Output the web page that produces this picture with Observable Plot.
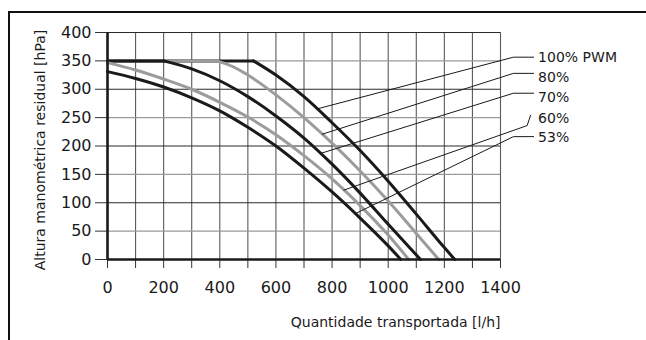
<!DOCTYPE html>
<html>
<head>
<meta charset="utf-8">
<script src="https://cdn.jsdelivr.net/npm/d3@7"></script>
<script src="https://cdn.jsdelivr.net/npm/@observablehq/plot@0.6"></script>
<style>
  html, body { margin: 0; padding: 0; background: #fff; }
  #wrap { position: relative; width: 646px; height: 340px; overflow: hidden; }
  #border { position: absolute; left: 8px; top: 11px; width: 700px; height: 400px;
            border-top: 2px solid #111; border-left: 2px solid #111; box-sizing: border-box; }
  #chart { position: absolute; left: 0; top: 0; }
</style>
</head>
<body>
<div id="wrap"><div id="border"></div><div id="chart"></div></div>
<script>
// ---- data ----
const seriesNames = ["100% PWM", "80%", "70%", "60%", "53%"];
const seriesColors = ["#1a1a1a", "#9c9c9c", "#1a1a1a", "#9c9c9c", "#1a1a1a"];

const flow100 = [0, 520, 600, 700, 800, 900, 1000, 1100, 1200, 1237];
const head100 = [350, 350, 325, 287, 241, 192, 138, 80, 21, 0];

const flow80 = [0, 390, 450, 500, 600, 700, 800, 900, 1000, 1100, 1180];
const head80 = [350, 350, 339, 325, 290, 250, 205, 156, 103, 46, 0];

const flow70 = [0, 200, 300, 400, 500, 600, 700, 800, 900, 1000, 1115];
const head70 = [350, 350, 336, 315, 287, 253, 214, 168, 117, 62, 0];

const flow60 = [0, 100, 200, 300, 400, 500, 600, 700, 800, 900, 1000, 1073];
const head60 = [347, 334, 318, 300, 277, 251, 220, 183, 142, 95, 43, 0];

const flow53 = [0, 100, 200, 300, 400, 500, 600, 700, 800, 900, 1000, 1045];
const head53 = [331, 319, 304, 285, 262, 233, 200, 161, 119, 73, 24, 0];

const xTicks = [0, 100, 200, 300, 400, 500, 600, 700, 800, 900, 1000, 1100, 1200, 1300, 1400];
const xTickLabels = ["0", "", "200", "", "400", "", "600", "", "800", "", "1000", "", "1200", "", "1400"];
const yTicks = [0, 50, 100, 150, 200, 250, 300, 350, 400];

// label annotations (data units)
const labelTextY = [356, 320, 285, 249, 215];
const leaderCurveX = [747, 765, 759, 842, 883];
const leaderKneeX = [1446, 1446, 1446, 1495, 1446];
const leaderKneeY = [356.5, 328, 293, 236, 216.5];
const leaderEndX = [1518, 1518, 1518, 1507, 1518];
const leaderEndY = [356.5, 328, 293, 254, 216.5];
const labelX = 1534;

const xTitle = "Quantidade transportada [l/h]";
const yTitle = "Altura manométrica residual [hPa]";

// ---- build tables ----
const flows = [flow100, flow80, flow70, flow60, flow53];
const heads = [head100, head80, head70, head60, head53];
const rows = (i) => flows[i].map((f, j) => ({flow: f, head: heads[i][j]}));
// split each series into its flat (capped) start and its falling part
const flatParts = [], fallParts = [];
seriesNames.forEach((name, i) => {
  const r = rows(i);
  let k = 0;
  while (k + 1 < r.length && r[k + 1].head === r[0].head) k++;
  flatParts.push(r.slice(0, k + 1));
  fallParts.push(r.slice(k));
});

function headAt(i, x) {
  const fx = flows[i], hy = heads[i];
  for (let j = 1; j < fx.length; j++) {
    if (x <= fx[j]) {
      const t = (x - fx[j - 1]) / (fx[j] - fx[j - 1]);
      return hy[j - 1] + t * (hy[j] - hy[j - 1]);
    }
  }
  return hy[hy.length - 1];
}
const leaders = seriesNames.map((name, i) => [
  {x: leaderCurveX[i], y: headAt(i, leaderCurveX[i])},
  {x: leaderKneeX[i], y: leaderKneeY[i]},
  {x: leaderEndX[i], y: leaderEndY[i]}
]);
const labels = seriesNames.map((name, i) => ({name, x: labelX, y: labelTextY[i]}));

const gridDark = yTicks.filter(d => d % 100 === 0);
const gridLight = yTicks.filter(d => d % 100 !== 0);

const font = "DejaVu Sans, sans-serif";

const curveMarks = [];
seriesNames.forEach((name, i) => {
  if (flatParts[i].length > 1)
    curveMarks.push(Plot.line(flatParts[i], {x: "flow", y: "head", stroke: seriesColors[i], strokeWidth: 3}));
  curveMarks.push(Plot.line(fallParts[i], {x: "flow", y: "head", stroke: seriesColors[i], strokeWidth: 3,
                                            curve: "monotone-x", strokeLinejoin: "round"}));
});

const chart = Plot.plot({
  width: 646,
  height: 340,
  marginLeft: 107,
  marginRight: 146,
  marginTop: 32,
  marginBottom: 81,
  style: {fontFamily: font, fontSize: "16px", color: "#1a1a1a", background: "transparent", overflow: "visible"},
  x: {domain: [0, 1400], axis: null},
  y: {domain: [0, 400], axis: null},
  marks: [
    Plot.ruleX(xTicks, {stroke: "#5a5a5a", strokeWidth: 1.1}),
    Plot.ruleY(gridLight, {stroke: "#9a9a9a", strokeWidth: 1.3}),
    Plot.ruleY(gridDark, {stroke: "#2a2a2a", strokeWidth: 1.2}),
    Plot.axisX({ticks: xTicks, tickFormat: (d, i) => xTickLabels[i], tickSize: 9, tickPadding: 13,
                label: null, fontSize: 16, fontFamily: font, stroke: "#333"}),
    Plot.axisY({ticks: yTicks, tickSize: 12, tickPadding: 4, label: null, fontSize: 16, fontFamily: font, stroke: "#333"}),
    ...curveMarks,
    Plot.ruleX([0], {stroke: "#1a1a1a", strokeWidth: 2.6}),
    Plot.ruleY([0], {stroke: "#1a1a1a", strokeWidth: 2.6}),
    ...leaders.map(l => Plot.line(l, {x: "x", y: "y", stroke: "#1a1a1a", strokeWidth: 1})),
    Plot.text(labels, {x: "x", y: "y", text: "name", textAnchor: "start", fontSize: 14, fontFamily: font, fill: "#1a1a1a"}),
    Plot.text([xTitle], {frameAnchor: "bottom-right", text: d => d, textAnchor: "end", dy: 67,
                         fontSize: 14, fontFamily: font, fill: "#1a1a1a"}),
    Plot.text([yTitle], {frameAnchor: "left", text: d => d, rotate: -90, textAnchor: "middle", dx: -67, dy: 4,
                         fontSize: 14, fontFamily: font, fill: "#1a1a1a"})
  ]
});
document.getElementById("chart").appendChild(chart);
</script>
</body>
</html>
